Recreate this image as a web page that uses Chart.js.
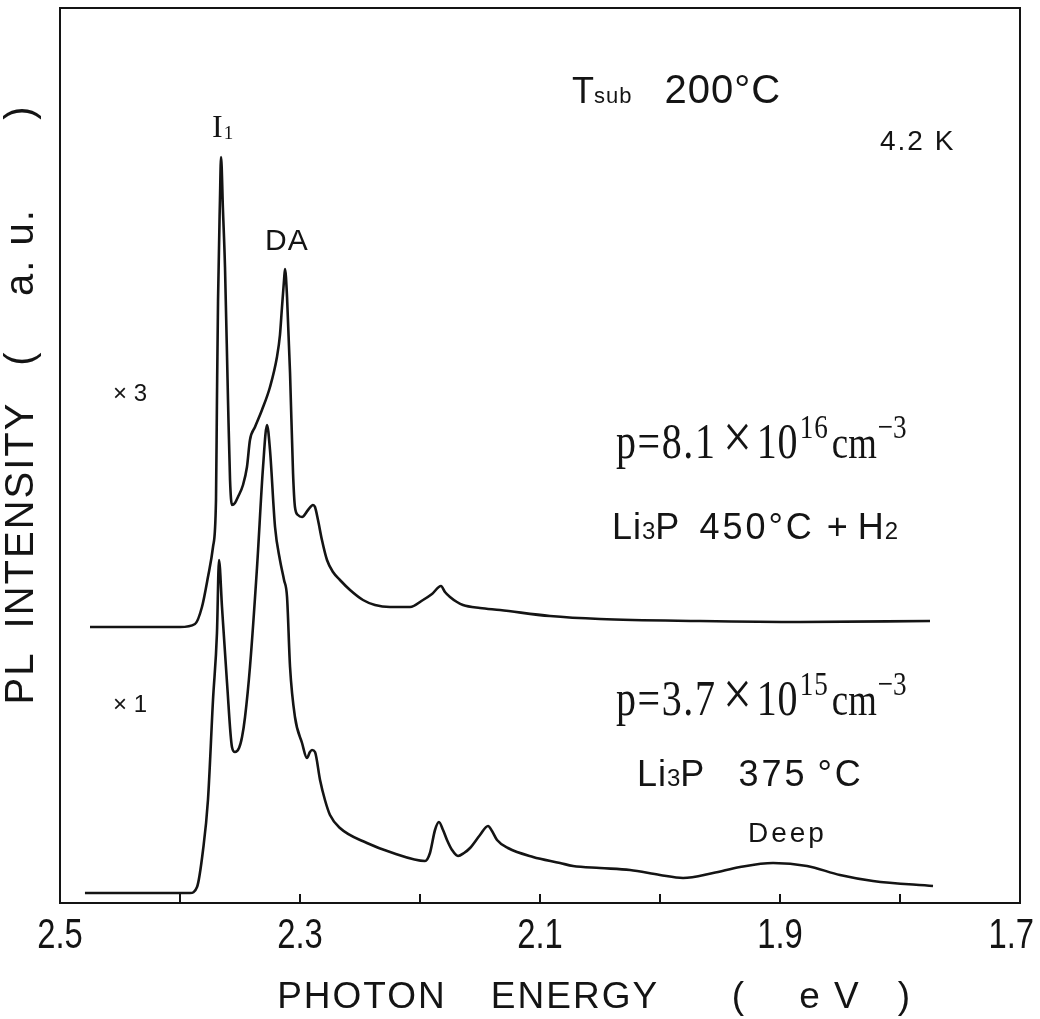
<!DOCTYPE html>
<html>
<head>
<meta charset="utf-8">
<title>PL spectra, Tsub 200°C</title>
<script src="https://cdn.jsdelivr.net/npm/chart.js@4.4.1/dist/chart.umd.min.js"></script>
<style>
  html, body { margin: 0; padding: 0; background: #fff; }
</style>
</head>
<body>
<canvas id="plChart" width="1040" height="1019"></canvas>
<script>
// photon energy (eV) and PL intensity (a.u.)
const upperEnergy = [2.475, 2.425, 2.4, 2.3875, 2.3817, 2.3767, 2.3725, 2.37, 2.3692, 2.3683,
    2.3667, 2.3658, 2.3642, 2.3625, 2.36, 2.3583, 2.3567, 2.3542, 2.3517, 2.3475,
    2.3442, 2.3417, 2.3375, 2.3317, 2.325, 2.3192, 2.3167, 2.315, 2.3133, 2.3125,
    2.3108, 2.3083, 2.3058, 2.3042, 2.3017, 2.2983, 2.2933, 2.2892, 2.2875, 2.285,
    2.2817, 2.2775, 2.2725, 2.2667, 2.2583, 2.2475, 2.2375, 2.225, 2.2083, 2.1975,
    2.19, 2.1825, 2.1792, 2.175, 2.1692, 2.1642, 2.15, 2.1333, 2.0917, 2.05,
    1.9667, 1.8833, 1.775];
const upperIntensity = [27.6, 27.6, 27.6, 27.9, 29.6, 32.6, 35.6, 40.3, 50.3, 60.3,
    70.3, 74.6, 69.3, 63.6, 50.3, 42.3, 39.8, 40.0, 40.6, 41.8,
    43.6, 46.3, 47.6, 49.3, 51.6, 54.6, 56.8, 59.6, 62.3, 63.4,
    60.6, 53.0, 43.0, 39.6, 38.8, 38.6, 39.3, 39.8, 39.6, 38.3,
    36.3, 34.3, 33.1, 32.3, 31.3, 30.3, 29.8, 29.6, 29.6, 30.3,
    30.9, 31.7, 31.1, 30.6, 30.1, 29.8, 29.5, 29.3, 28.7, 28.4,
    28.2, 28.1, 28.2];

const lowerEnergy = [2.4792, 2.425, 2.3917, 2.3858, 2.3808, 2.3767, 2.3725, 2.3692, 2.3675, 2.365,
    2.3608, 2.3567, 2.3542, 2.3508, 2.3483, 2.3458, 2.3417, 2.3358, 2.3308, 2.3275,
    2.325, 2.3208, 2.3167, 2.3133, 2.3108, 2.3083, 2.3042, 2.2983, 2.2942, 2.2917,
    2.29, 2.2875, 2.2833, 2.2792, 2.275, 2.2667, 2.2442, 2.2225, 2.1958, 2.1917,
    2.1875, 2.1842, 2.1808, 2.1775, 2.1733, 2.1683, 2.1633, 2.1583, 2.15, 2.1433,
    2.14, 2.1358, 2.1267, 2.1058, 2.0833, 2.0725, 2.05, 2.025, 2.0, 1.9808,
    1.9558, 1.9333, 1.9058, 1.8775, 1.85, 1.8225, 1.7725];
const lowerIntensity = [1.0, 1.0, 1.0, 1.6, 5.3, 10.3, 20.3, 27.0, 34.3, 29.6,
    22.0, 15.6, 15.1, 15.5, 16.6, 18.6, 23.6, 33.6, 43.6, 47.8,
    45.3, 37.6, 34.3, 32.3, 30.6, 23.6, 18.6, 16.0, 14.5, 15.1,
    15.3, 15.1, 12.3, 10.3, 8.8, 7.5, 6.0, 5.0, 4.2, 5.0,
    7.3, 8.1, 7.3, 6.3, 5.3, 4.7, 5.0, 5.5, 6.8, 7.7,
    7.2, 6.3, 5.5, 4.6, 4.0, 3.7, 3.5, 3.3, 2.8, 2.5,
    3.0, 3.6, 4.0, 3.7, 2.8, 2.2, 1.7];

const tickLabels = ['2.5', '2.3', '2.1', '1.9', '1.7'];

const INK = '#141414';
const SANS = '"Liberation Sans", Arial, sans-serif';
const SERIF = '"Liberation Serif", "DejaVu Serif", serif';

function toPoints(xs, ys) {
    return xs.map((x, i) => ({ x: x, y: ys[i] }));
}

// draw a row of text pieces, each with its own font / vertical shift
function drawRuns(ctx, x, y, runs) {
    runs.forEach(r => {
        ctx.font = r.font;
        ctx.letterSpacing = (r.ls || 0) + 'px';
        ctx.fillText(r.t, x, y + (r.dy || 0));
        x += ctx.measureText(r.t).width + (r.gap || 0);
    });
    ctx.letterSpacing = '0px';
}

function drawDensity(ctx, x, y, mant, exp) {
    ctx.save();
    ctx.translate(x, y);
    ctx.scale(0.8, 1);
    drawRuns(ctx, 0, 0, [
        { t: 'p=' + mant, font: '50px ' + SERIF, ls: 2, gap: 8 },
        { t: '×', font: '64px ' + SERIF, gap: 6 },
        { t: '10', font: '50px ' + SERIF, ls: 1, gap: 2 },
        { t: exp, font: '34px ' + SERIF, dy: -20, ls: 1, gap: 4 },
        { t: 'cm', font: '46px ' + SERIF, gap: 1 },
        { t: '−3', font: '34px ' + SERIF, dy: -20 }
    ]);
    ctx.restore();
}

const paperPlugin = {
    id: 'paper',
    afterDraw(chart) {
        const ctx = chart.ctx;
        const area = chart.chartArea;
        const xs = chart.scales.x;
        ctx.save();
        ctx.strokeStyle = INK;
        ctx.fillStyle = INK;
        ctx.lineWidth = 2;
        ctx.strokeRect(area.left, area.top, area.right - area.left, area.bottom - area.top);

        // ticks point into the plot, labels in a narrow plotter style
        ctx.textAlign = 'center';
        ctx.textBaseline = 'middle';
        ctx.font = '42px ' + SANS;
        xs.ticks.forEach(t => {
            const px = xs.getPixelForValue(t.value);
            ctx.beginPath();
            ctx.moveTo(px, area.bottom);
            ctx.lineTo(px, area.bottom - 9);
            ctx.stroke();
            const s = Number(t.value).toFixed(1);
            if (tickLabels.includes(s)) {
                const half = ctx.measureText(s).width * 0.78 / 2;
                ctx.save();
                ctx.translate(Math.min(px, chart.width - half - 6), area.bottom + 33);
                ctx.scale(0.78, 1);
                ctx.fillText(s, 0, 0);
                ctx.restore();
            }
        });

        ctx.textBaseline = 'alphabetic';
        ctx.textAlign = 'left';

        // peak labels
        drawRuns(ctx, 212, 137, [
            { t: 'I', font: '32px ' + SERIF, gap: 1 },
            { t: '1', font: '19px ' + SERIF, dy: 2 }
        ]);
        drawRuns(ctx, 265, 250, [{ t: 'DA', font: '30px ' + SANS, ls: 1 }]);
        drawRuns(ctx, 748, 842, [{ t: 'Deep', font: '28px ' + SANS, ls: 3 }]);

        // conditions
        drawRuns(ctx, 572, 103, [
            { t: 'T', font: '36px ' + SANS, gap: 0 },
            { t: 'sub', font: '22px ' + SANS, ls: 1, gap: 32 },
            { t: '200°C', font: '40px ' + SANS, ls: 1 }
        ]);
        drawRuns(ctx, 880, 150, [{ t: '4.2 K', font: '28px ' + SANS, ls: 2 }]);

        drawRuns(ctx, 113, 401, [{ t: '× 3', font: '24px ' + SANS }]);
        drawRuns(ctx, 113, 712, [{ t: '× 1', font: '24px ' + SANS }]);

        drawDensity(ctx, 616, 458, '8.1', '16');
        drawRuns(ctx, 612, 539, [
            { t: 'Li', font: '36px ' + SANS, ls: 1 },
            { t: '3', font: '24px ' + SANS, gap: 0 },
            { t: 'P', font: '36px ' + SANS, gap: 20 },
            { t: '450°C', font: '36px ' + SANS, ls: 3, gap: 12 },
            { t: '+', font: '36px ' + SANS, gap: 10 },
            { t: 'H', font: '36px ' + SANS, gap: 1 },
            { t: '2', font: '24px ' + SANS }
        ]);

        drawDensity(ctx, 616, 715, '3.7', '15');
        drawRuns(ctx, 637, 786, [
            { t: 'Li', font: '36px ' + SANS, ls: 1 },
            { t: '3', font: '24px ' + SANS, gap: 0 },
            { t: 'P', font: '36px ' + SANS, gap: 34 },
            { t: '375', font: '36px ' + SANS, ls: 3, gap: 10 },
            { t: '°C', font: '36px ' + SANS, ls: 3 }
        ]);

        // axis titles, spaced out like the plotter lettering
        ctx.textAlign = 'center';
        ctx.textBaseline = 'middle';
        ctx.font = '37px ' + SANS;
        ctx.letterSpacing = '2px';
        [['PHOTON', 362], ['ENERGY', 575], ['(', 739], ['e V', 830], [')', 905]].forEach(p => {
            ctx.fillText(p[0], p[1], 998);
        });

        ctx.translate(22, 0);
        ctx.rotate(-Math.PI / 2);
        ctx.font = '40px ' + SANS;
        [['PL', 678], ['INTENSITY', 515], ['(', 358], ['a. u.', 252], [')', 112]].forEach(p => {
            ctx.fillText(p[0], -p[1], 0);
        });
        ctx.restore();
    }
};

const lineStyle = {
    borderColor: INK,
    borderWidth: 2.6,
    pointRadius: 0,
    cubicInterpolationMode: 'monotone',
    fill: false
};

const ctx = document.getElementById('plChart').getContext('2d');
new Chart(ctx, {
    type: 'line',
    data: {
        datasets: [
            Object.assign({ label: 'x3, Li3P 450°C + H2', data: toPoints(upperEnergy, upperIntensity) }, lineStyle),
            Object.assign({ label: 'x1, Li3P 375°C', data: toPoints(lowerEnergy, lowerIntensity) }, lineStyle)
        ]
    },
    options: {
        responsive: false,
        animation: false,
        events: [],
        layout: { padding: { left: 60, right: 20, top: 8, bottom: 0 } },
        plugins: { legend: { display: false }, tooltip: { enabled: false } },
        scales: {
            x: {
                type: 'linear',
                reverse: true,
                min: 1.7,
                max: 2.5,
                grid: { display: false },
                border: { display: false },
                ticks: { stepSize: 0.1, display: false },
                afterFit: function (scale) {
                    scale.height = 116;
                    scale.paddingLeft = 0;
                    scale.paddingRight = 0;
                }
            },
            y: {
                display: false,
                min: 0,
                max: 89.5
            }
        }
    },
    plugins: [paperPlugin]
});
</script>
</body>
</html>
